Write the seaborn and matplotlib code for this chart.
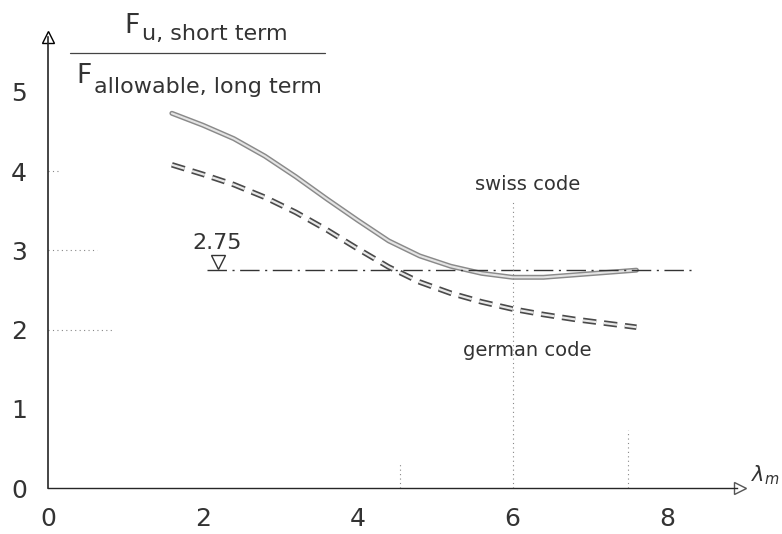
import matplotlib.pyplot as plt
import matplotlib.patheffects as pe
import pandas as pd
import seaborn as sns

# values
swiss_x = [1.6, 2.0, 2.4, 2.8, 3.2, 3.6, 4.0, 4.4, 4.8, 5.2, 5.6, 6.0, 6.4, 6.8, 7.2, 7.6]
swiss_y = [4.73, 4.58, 4.41, 4.19, 3.93, 3.65, 3.38, 3.12, 2.93, 2.80, 2.71, 2.66, 2.66, 2.69, 2.72, 2.75]
german_x = [1.6, 2.0, 2.4, 2.8, 3.2, 3.6, 4.0, 4.4, 4.8, 5.2, 5.6, 6.0, 6.4, 6.8, 7.2, 7.6]
german_y = [4.08, 3.96, 3.83, 3.67, 3.48, 3.26, 3.02, 2.79, 2.60, 2.46, 2.35, 2.26, 2.19, 2.13, 2.08, 2.03]
ref_level = 2.75
ref_x = [2.05, 8.33]
x_ticks = [0, 2, 4, 6, 8]
y_ticks = [0, 1, 2, 3, 4, 5]

sns.set_style("white")
plt.rcParams["font.family"] = ["DejaVu Sans"]
plt.rcParams["mathtext.fontset"] = "dejavusans"

fig = plt.figure(figsize=(7.82, 5.34), dpi=100)
ax = fig.add_axes([0, 0, 1, 1])
ax.set_xlim(-0.62, 9.48)
ax.set_ylim(-0.58, 6.16)

swiss = pd.DataFrame({"x": swiss_x, "y": swiss_y})
german = pd.DataFrame({"x": german_x, "y": german_y})
ref = pd.DataFrame({"x": ref_x, "y": [ref_level] * len(ref_x)})

sns.lineplot(data=swiss, x="x", y="y", ax=ax, color="#e4e4e4", lw=1.5,
             path_effects=[pe.Stroke(linewidth=3.6, foreground="#8a8a8a"),
                           pe.Normal()])
l = sns.lineplot(data=german, x="x", y="y", ax=ax, color="#e8e8e8", lw=1.6,
                 path_effects=[pe.Stroke(linewidth=4.0, foreground="#4a4a4a"),
                               pe.Normal()])
l.lines[-1].set_dashes([6, 3.5])
r = sns.lineplot(data=ref, x="x", y="y", ax=ax, color="#333333", lw=1.0)
r.lines[-1].set_dashes([14, 4, 1.5, 4])

# triangle marker for the 2.75 level
ax.plot([2.2], [ref_level + 0.1], marker="v", ms=10, mfc="white",
        mec="#333333", mew=1.0)
ax.text(2.18, 3.09, "2.75", fontsize=16, color="#333333", ha="center",
        va="center")

# light dotted guides
dots = dict(color="#888888", lw=0.8, ls=(0, (1, 3)))
ax.plot([6, 6], [0, 3.64], **dots)
ax.plot([7.49, 7.49], [0, 0.73], **dots)
ax.plot([4.55, 4.55], [0, 0.3], **dots)
ax.plot([0, 0.84], [2, 2], **dots)
ax.plot([0, 0.63], [3, 3], **dots)
ax.plot([0, 0.15], [4, 4], **dots)

ax.text(6.19, 3.83, "swiss code", fontsize=14, color="#333333", ha="center",
        va="center")
ax.text(6.19, 1.74, "german code", fontsize=14, color="#333333", ha="center",
        va="center")

# fraction label on the y axis
ax.text(0.99, 5.74, "F", fontsize=19, color="#333333", ha="left",
        va="baseline")
ax.text(1.21, 5.66, "u, short term", fontsize=16, color="#333333",
        ha="left", va="baseline")
ax.plot([0.28, 3.58], [5.49, 5.49], color="#444444", lw=0.9)
ax.text(0.36, 5.11, "F", fontsize=19, color="#333333", ha="left",
        va="baseline")
ax.text(0.6, 4.99, "allowable, long term", fontsize=16, color="#333333",
        ha="left", va="baseline")

# axes drawn through the origin with arrow heads
for side in ["top", "right"]:
    ax.spines[side].set_visible(False)
ax.spines["left"].set_position(("data", 0))
ax.spines["bottom"].set_position(("data", 0))
ax.spines["left"].set_bounds(0, 5.69)
ax.spines["bottom"].set_bounds(0, 8.9)
ax.spines["left"].set_linewidth(1.2)
ax.spines["bottom"].set_linewidth(1.0)
ax.plot([0], [5.69], marker="^", ms=9, mfc="white", mec="black", clip_on=False)
ax.plot([8.94], [0], marker=">", ms=9, mfc="white", mec="#555555", clip_on=False)
ax.text(9.08, 0.16, r"$\lambda_m$", fontsize=15, color="#333333", ha="left",
        va="center")

ax.set_xticks(x_ticks)
ax.set_yticks(y_ticks)
ax.tick_params(axis="both", direction="inout", length=10, width=1.0,
               labelsize=18, colors="black", labelcolor="#333333")
ax.tick_params(axis="x", pad=9)
ax.tick_params(axis="y", pad=10)
ax.set_xlabel("")
ax.set_ylabel("")

fig.savefig("out.png", dpi=100)
